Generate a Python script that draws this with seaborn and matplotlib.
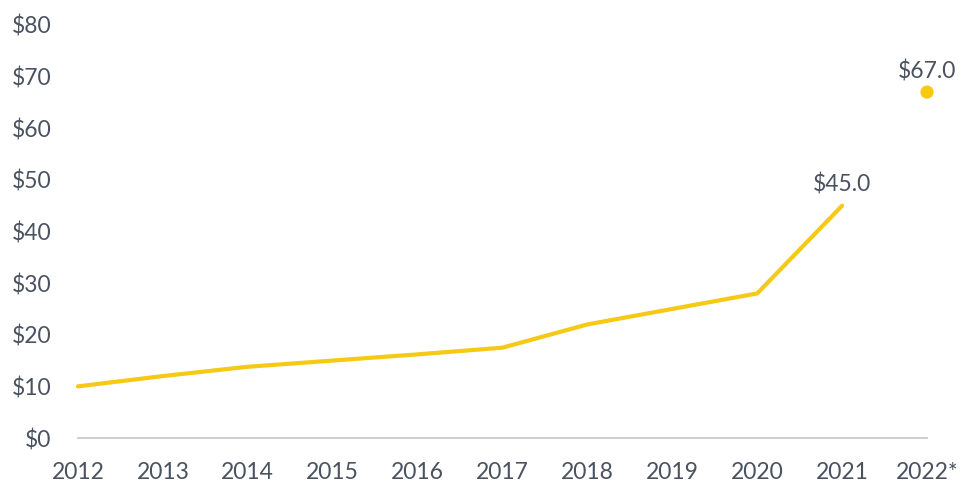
import numpy as np
import pandas as pd
import matplotlib
matplotlib.use("Agg")
import matplotlib.pyplot as plt
import seaborn as sns

# data
years = ['2012', '2013', '2014', '2015', '2016', '2017', '2018', '2019', '2020', '2021']
values = [10.0, 12.0, 13.8, 15.0, 16.2, 17.5, 22.0, 25.0, 28.0, 45.0]
forecast_year = ['2022*']
forecast_value = [67.0]
y_ticks = [0, 10, 20, 30, 40, 50, 60, 70, 80]

YELLOW = '#F6C915'
TEXT = '#4A5260'

sns.set_theme(style='white')
plt.rcParams['font.family'] = ['Lato', 'DejaVu Sans']

all_years = years + forecast_year
df_line = pd.DataFrame({'pos': np.arange(len(years)), 'value': values})
df_dot = pd.DataFrame({'pos': np.arange(len(years), len(all_years)), 'value': forecast_value})

fig = plt.figure(figsize=(9.71, 4.87), dpi=100)
ax = fig.add_axes([0.0803, 0.1006, 0.8744, 0.8481])

sns.lineplot(data=df_line, x='pos', y='value', color=YELLOW, linewidth=3, ax=ax)
sns.scatterplot(data=df_dot, x='pos', y='value', color=YELLOW, s=90, edgecolor='none', ax=ax)

# value labels for the last actual and the forecast point
for d in (df_line.iloc[[-1]], df_dot):
    for _, r in d.iterrows():
        ax.annotate(f"${r['value']:.1f}", (r['pos'], r['value']), xytext=(0, 7),
                    textcoords='offset points', ha='center', va='bottom',
                    fontsize=16.5, fontweight='normal', color=TEXT)

ax.set_xlim(0, len(all_years) - 1)
ax.set_ylim(0, 80)
ax.set_xticks(np.arange(len(all_years)))
ax.set_xticklabels(all_years)
ax.set_yticks(y_ticks)
ax.set_yticklabels([f'${t}' for t in y_ticks])
ax.set_xlabel('')
ax.set_ylabel('')

for s in ['top', 'right', 'left']:
    ax.spines[s].set_visible(False)
ax.spines['bottom'].set_color('#C9C5BF')
ax.spines['bottom'].set_linewidth(1.2)
ax.tick_params(axis='both', length=0, labelsize=16.5, labelcolor=TEXT)
ax.tick_params(axis='x', pad=17)
ax.tick_params(axis='y', pad=19)
for c in ax.collections + ax.lines:
    c.set_clip_on(False)

fig.savefig('out.png', dpi=100, facecolor='white')
